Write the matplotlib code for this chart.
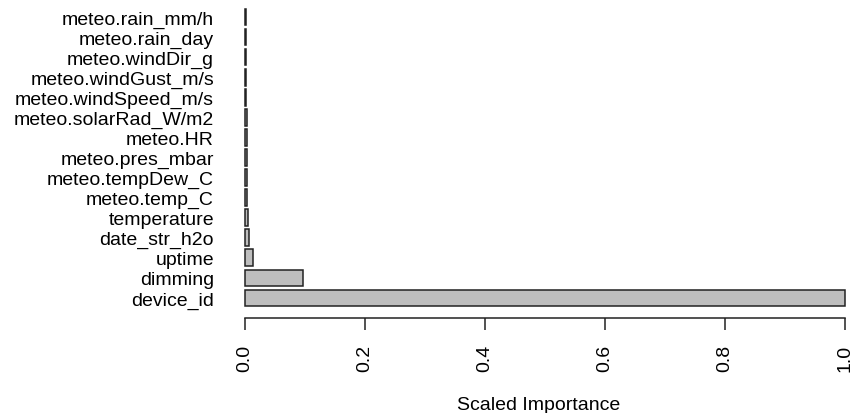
import matplotlib
matplotlib.use("Agg")
import matplotlib.pyplot as plt
import numpy as np

# variable importance, bottom to top
features = ["device_id", "dimming", "uptime", "date_str_h2o", "temperature",
            "meteo.temp_C", "meteo.tempDew_C", "meteo.pres_mbar", "meteo.HR",
            "meteo.solarRad_W/m2", "meteo.windSpeed_m/s", "meteo.windGust_m/s",
            "meteo.windDir_g", "meteo.rain_day", "meteo.rain_mm/h"]
importance = [1.0, 0.097, 0.014, 0.007, 0.005,
              0.003, 0.003, 0.003, 0.003,
              0.003, 0.0012, 0.0012,
              0.0012, 0.0012, 0.001]
xticks = [0.0, 0.2, 0.4, 0.6, 0.8, 1.0]

plt.rcParams['font.family'] = ['Liberation Sans', 'DejaVu Sans']

fig = plt.figure(figsize=(8.57, 4.14), dpi=100)
# plot region in pixels: x 221..857, y 0..319.4 (from top)
ax = fig.add_axes([221 / 857, (414 - 319.4) / 414, (857 - 221) / 857, 319.4 / 414])

pos = 0.7 + 1.2 * np.arange(len(features))
ax.barh(pos, importance, height=1.0, color="#BEBEBE", edgecolor="#222222", linewidth=1.1)

ax.set_xlim(-0.04, 1.0 + 12 / 600)
ax.set_ylim(-0.52, 18.57)

for s in ["top", "right", "left"]:
    ax.spines[s].set_visible(False)
ax.spines["bottom"].set_bounds(0, 1)
ax.spines["bottom"].set_linewidth(1.1)
ax.spines["bottom"].set_color("#222222")

ax.set_yticks(pos)
ax.set_yticklabels(features, fontsize=14)
ax.tick_params(axis="y", length=0, pad=5)

ax.set_xticks(xticks)
ax.set_xticklabels([f"{t:.1f}" for t in xticks], rotation=90, fontsize=14)
ax.tick_params(axis="x", length=8.6, width=1.1, color="#222222", pad=10)
ax.set_xlabel("Scaled Importance", fontsize=14, labelpad=18)

fig.savefig("out.png", dpi=100)
